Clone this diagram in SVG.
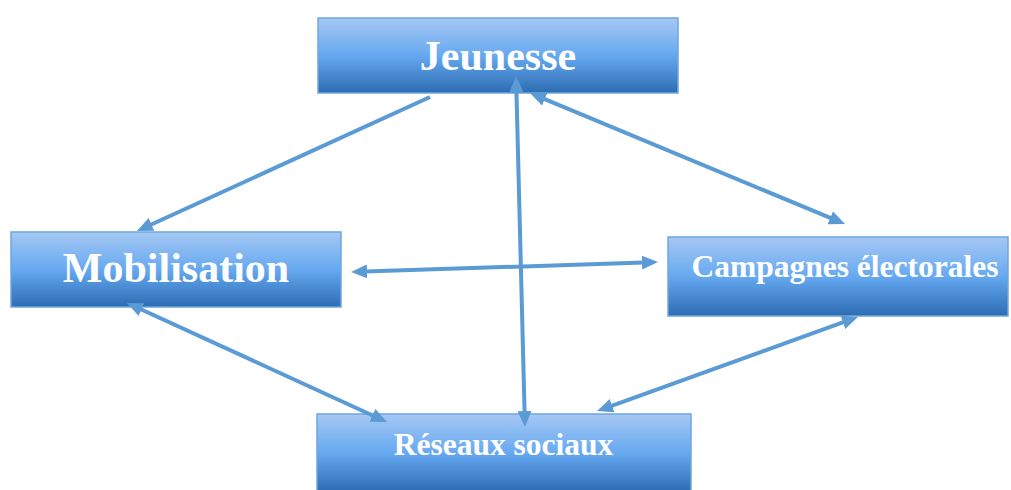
<svg xmlns="http://www.w3.org/2000/svg" width="1011" height="490" viewBox="0 0 1011 490">
<defs>
<linearGradient id="g" x1="0" y1="0" x2="0" y2="1">
<stop offset="0" stop-color="#A6C8F4"/>
<stop offset="0.5" stop-color="#66A9F0"/>
<stop offset="1" stop-color="#2C6CB3"/>
</linearGradient>
<marker id="ah" markerUnits="userSpaceOnUse" markerWidth="16" markerHeight="14" refX="2" refY="7" orient="auto-start-reverse" viewBox="0 0 16 14">
<path d="M0,0 L16,7 L0,14 z" fill="#5B9BD5"/>
</marker>
<style>
.box{fill:url(#g);stroke:#6FA6DE;stroke-width:1.5}
.t{font-family:"Liberation Serif","Times New Roman",serif;font-weight:bold;fill:#ffffff;text-anchor:middle}
.c{stroke:#5B9BD5;stroke-width:4;fill:none}
</style>
</defs>
<g id="jeunesse">
<rect class="box" x="318" y="18" width="360" height="75"/>
<text class="t" x="498" y="70" font-size="42">Jeunesse</text>
</g>
<g id="mobilisation">
<rect class="box" x="11" y="232" width="330" height="75"/>
<text class="t" x="176" y="282" font-size="42">Mobilisation</text>
</g>
<g id="campagnes">
<rect class="box" x="668" y="237" width="340" height="79"/>
<text class="t" x="845" y="277" font-size="31.5">Campagnes électorales</text>
</g>
<g id="reseaux">
<rect class="box" x="317" y="414" width="374" height="78"/>
<text class="t" x="503.5" y="455" font-size="31.5">Réseaux sociaux</text>
</g>
<g id="connectors">
<line class="c" x1="430" y1="97" x2="149.7" y2="225.2" marker-end="url(#ah)"/>
<line class="c" x1="516.4" y1="90" x2="524.6" y2="413" marker-start="url(#ah)" marker-end="url(#ah)"/>
<line class="c" x1="542.9" y1="98.4" x2="832.1" y2="218.6" marker-start="url(#ah)" marker-end="url(#ah)"/>
<line class="c" x1="365" y1="271.5" x2="644" y2="262.5" marker-start="url(#ah)" marker-end="url(#ah)"/>
<line class="c" x1="139.7" y1="308.8" x2="374.3" y2="416.2" marker-start="url(#ah)" marker-end="url(#ah)"/>
<line class="c" x1="844.8" y1="321.7" x2="610.2" y2="406.3" marker-start="url(#ah)" marker-end="url(#ah)"/>
</g>
</svg>
